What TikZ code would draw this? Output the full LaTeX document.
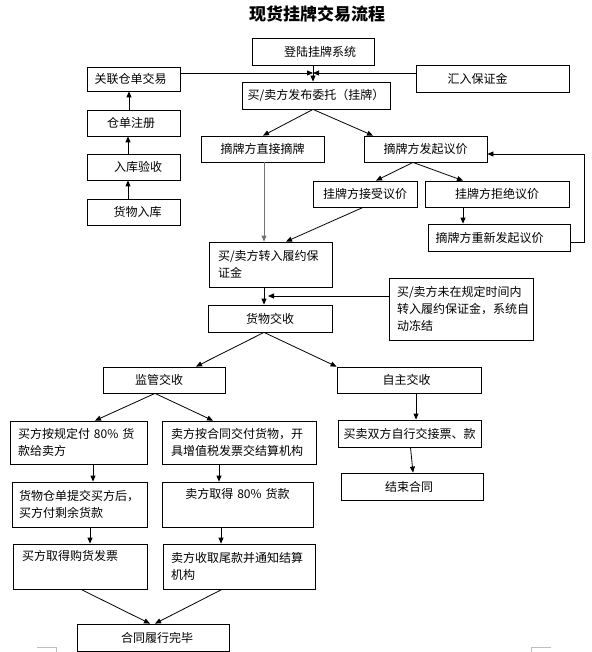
\documentclass[tikz,border=0pt]{standalone}
\usepackage{fontspec}
\newfontfamily\cjk{Noto Sans CJK SC}
\usetikzlibrary{arrows.meta}
\tikzset{
  box/.style={draw=black,line width=0.8pt,rectangle,inner sep=2pt,font=\cjk\fontsize{12}{17}\selectfont},
  multi/.style={align=left},
  conn/.style={draw=black,line width=0.8pt,-{Triangle[length=6pt,width=5pt]}},
  cropmark/.style={draw=black!25,line width=0.8pt},
  titletext/.style={font=\cjk\bfseries\fontsize{17}{20}\selectfont}
}
\newcommand\mybox[7][]{%
  \node[box,minimum width={(#5)-(#3)},minimum height={(#6)-(#4)},#1] (#2) at ({((#3)+(#5))/2},{((#4)+(#6))/2}) {#7};}
\begin{document}
\begin{tikzpicture}[x=1pt,y=-1pt]
\useasboundingbox[fill=white] (0,0) rectangle (591,652);
\node[titletext] (title) at (317,14) {现货挂牌交易流程};
% boxes
\mybox{dl}{252}{38}{374}{65}{\hspace*{14pt}登陆挂牌系统}
\mybox{gl}{87}{67}{180}{91}{关联仓单交易\hspace*{6pt}}
\mybox{hr}{416}{65}{569}{92}{汇入保证金\hspace*{30pt}}
\mybox{fb}{242}{82}{390}{109}{买/卖方发布委托（挂牌）}
\mybox{cd}{87}{110}{180}{136}{仓单注册\hspace*{5pt}}
\mybox{rk}{87}{154}{180}{180}{\hspace*{9pt}入库验收}
\mybox{hw}{87}{199}{180}{225}{\hspace*{8pt}货物入库}
\mybox{zj}{201}{136}{324}{162}{摘牌方直接摘牌}
\mybox{yj}{364}{136}{487}{162}{摘牌方发起议价}
\mybox{js}{313}{181}{417}{207}{挂牌方接受议价}
\mybox{jj}{425}{181}{569}{207}{挂牌方拒绝议价}
\mybox{cx}{428}{224}{570}{251}{摘牌方重新发起议价\hspace*{19pt}}
\mybox[multi,text width=105pt]{ly}{209}{242}{332}{287}{买/卖方转入履约保\\证金}
\mybox[multi,text width=128pt]{wz}{389}{278}{533}{340}{买/卖方未在规定时间内\\转入履约保证金，系统自\\动冻结}
\mybox{jx}{208}{305}{332}{332}{货物交收}
\mybox{jg}{103}{367}{225}{393}{监管交收\hspace*{10pt}}
\mybox{zz}{337}{367}{481}{393}{自主交收\hspace*{5pt}}
\mybox[multi,text width=121pt]{mf}{10}{421}{147}{464}{买方按规定付 80\% 货\\款给卖方}
\mybox[multi,text width=136pt]{sf}{162}{421}{316}{464}{卖方按合同交付货物，开\\具增值税发票交结算机构}
\mybox{sx}{338}{420}{481}{447}{买卖双方自行交接票、款}
\mybox[multi,text width=121pt]{hc}{12}{482}{147}{527}{货物仓单提交买方后，\\买方付剩余货款}
\mybox[align=center,text width=130pt]{qd}{162}{482}{313}{527}{卖方取得 80\% 货款\\\strut}
\mybox{jh}{341}{473}{483}{500}{结束合同\hspace*{6pt}}
\mybox[multi,text width=116pt]{fp}{13}{544}{147}{589}{买方取得购货发票\\\strut}
\mybox[multi,text width=136pt]{wk}{163}{544}{315}{589}{卖方收取尾款并通知结算\\机构}
\mybox{wb}{77}{624}{229}{651}{\hspace*{8pt}合同履行完毕}
% connectors
\coordinate (m) at (313,73);
\draw[conn] (gl.east |- m) -- (m);
\draw[conn] (hr.west |- m) -- (m);
\draw[conn] (dl.south -| m) -- (fb.north -| m);
\draw[conn] ([xshift=-4.5pt]cd.north) -- ([xshift=-4.5pt]gl.south);
\draw[conn] ([xshift=-5.5pt]rk.north) -- ([xshift=-5.5pt]cd.south);
\draw[conn] ([xshift=-5.5pt]hw.north) -- ([xshift=-5.5pt]rk.south);
\draw[conn] ([xshift=-3pt]fb.south) -- ([xshift=0.5pt]zj.north);
\draw[conn] ([xshift=-3pt]fb.south) -- ([xshift=-52.5pt]yj.north);
\draw[conn,draw=black!55] ([xshift=1.5pt]zj.south) -- ([xshift=-6.5pt]ly.north);
\draw[conn] ([xshift=-12.5pt]yj.south) -- ([xshift=11pt]js.north);
\draw[conn] ([xshift=-12.5pt]yj.south) -- ([xshift=-34pt]jj.north);
\draw[conn] ([xshift=-2pt]js.south) -- ([xshift=15.5pt]ly.north);
\draw[conn] ([xshift=-34pt]jj.south) -- ([xshift=-36pt]cx.north);
\draw[conn] ([yshift=-4.5pt]cx.east) -- ++(14,0) |- ([yshift=-5pt]yj.east);
\draw[conn] ([xshift=-6.5pt]ly.south) -- ([xshift=-6pt]jx.north);
\coordinate (wt) at (268,296);
\draw[conn] ([yshift=13pt]wz.west) -- (wt);
\draw[conn] ([xshift=-6pt]jx.south) -- ([xshift=32pt]jg.north);
\draw[conn] ([xshift=-6pt]jx.south) -- (zz.north west);
\draw[conn] ([xshift=-9pt]jg.south) -- ([xshift=16.5pt]mf.north);
\draw[conn] ([xshift=-9pt]jg.south) -- ([xshift=-26pt]sf.north);
\draw[conn] ([xshift=7pt]zz.south) -- ([xshift=6.5pt]sx.north);
\draw[conn] ([xshift=1pt]sx.south) -- ([xshift=1pt]jh.north);
\draw[conn] ([xshift=14.5pt]mf.south) -- ([xshift=13.5pt]hc.north);
\draw[conn] ([xshift=-20pt]sf.south) -- ([xshift=-18.5pt]qd.north);
\draw[conn] ([xshift=10.5pt]hc.south) -- ([xshift=10pt]fp.north);
\draw[conn] ([xshift=-16.5pt]qd.south) -- ([xshift=-18pt]wk.north);
\draw[conn] ([xshift=1pt]fp.south) -- ([xshift=-3pt]wb.north);
\draw[conn] ([xshift=-17pt]wk.south) -- ([xshift=2pt]wb.north);
% page corner marks
\draw[cropmark] (37,647) -- (56,647) -- (56,652);
\draw[cropmark] (551,647) -- (531,647) -- (531,652);
\end{tikzpicture}
\end{document}
